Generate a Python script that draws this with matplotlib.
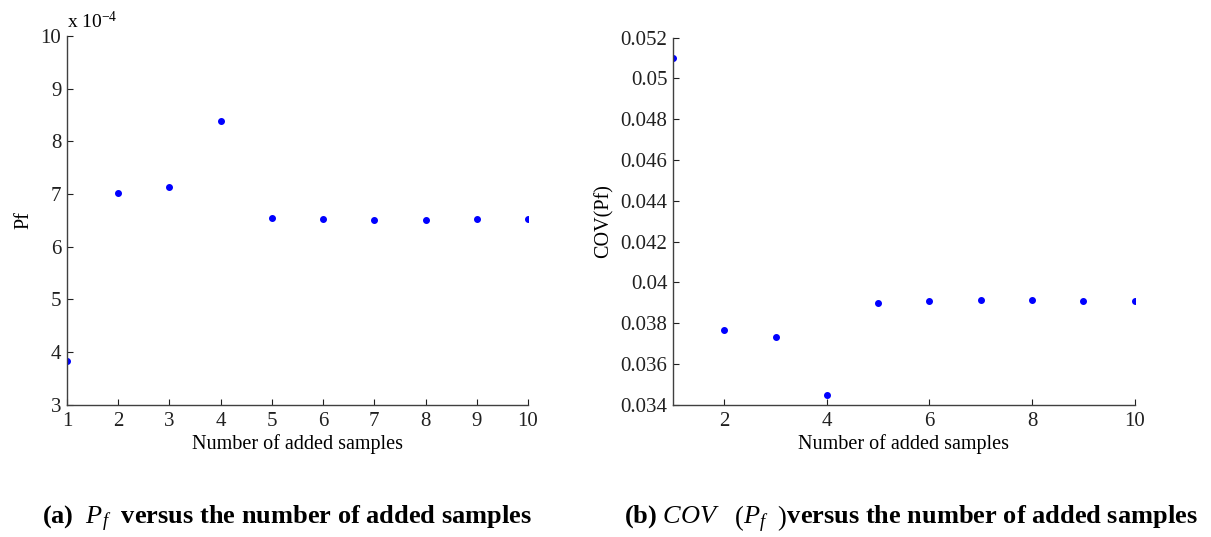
import matplotlib.pyplot as plt
from matplotlib.ticker import FuncFormatter

samples = [1, 2, 3, 4, 5, 6, 7, 8, 9, 10]
pf = [3.84e-4, 7.02e-4, 7.14e-4, 8.38e-4, 6.54e-4, 6.52e-4, 6.50e-4, 6.50e-4, 6.52e-4, 6.52e-4]
cov_pf = [0.0510, 0.03767, 0.03733, 0.03450, 0.03900, 0.03909, 0.03914, 0.03914, 0.03909, 0.03909]

pf_ticks = [3e-4, 4e-4, 5e-4, 6e-4, 7e-4, 8e-4, 9e-4, 10e-4]
cov_ticks = [0.034, 0.036, 0.038, 0.04, 0.042, 0.044, 0.046, 0.048, 0.05, 0.052]

plt.rcParams['font.family'] = ['Liberation Serif', 'DejaVu Serif']
plt.rcParams['mathtext.fontset'] = 'custom'
plt.rcParams['mathtext.it'] = 'Liberation Serif:italic'
plt.rcParams['mathtext.rm'] = 'Liberation Serif'

fig = plt.figure(figsize=(12.11, 5.37), dpi=100)
ax1 = fig.add_axes([0.0553, 0.246, 0.3807, 0.687])
ax2 = fig.add_axes([0.5557, 0.246, 0.3813, 0.684])

blue = "#0000FF"
fs = 15

for ax in (ax1, ax2):
    ax.spines['top'].set_visible(False)
    ax.spines['right'].set_visible(False)
    for s in ('left', 'bottom'):
        ax.spines[s].set_color('#404040')
        ax.spines[s].set_linewidth(1.0)
    ax.tick_params(direction='in', length=4, width=0.8, labelsize=fs, colors='#202020')
    ax.tick_params(axis='x', pad=5)
    ax.tick_params(axis='y', pad=4)
    ax.set_xlim(1, 10)
    ax.set_xlabel("Number of added samples", fontsize=14.5, labelpad=2)

ax1.plot(samples, pf, '.', color=blue, markersize=8)
ax1.set_ylim(3e-4, 10e-4)
ax1.set_yticks(pf_ticks)
ax1.yaxis.set_major_formatter(FuncFormatter(lambda v, p: "%g" % round(v * 1e4, 6)))
ax1.set_xticks(samples)
ax1.set_ylabel("Pf", fontsize=14.5, labelpad=5)
ax1.text(0.0, 1.01, "x 10$^{-4}$", transform=ax1.transAxes, fontsize=14, ha='left', va='bottom')

ax2.plot(samples, cov_pf, '.', color=blue, markersize=8)
ax2.set_ylim(0.034, 0.052)
ax2.set_yticks(cov_ticks)
ax2.yaxis.set_major_formatter(FuncFormatter(lambda v, p: "%g" % round(v, 6)))
ax2.set_xticks([2, 4, 6, 8, 10])
ax2.set_ylabel("COV(Pf)", fontsize=14.5, labelpad=5)

fig.text(0.035, 0.024, r"(a)  $P_f$  versus the number of added samples", fontsize=19, fontweight='bold', ha='left', va='baseline')
fig.text(0.515, 0.024, r"(b) $COV\ \ \ \left(P_f\ \ \right)$versus the number of added samples", fontsize=19, fontweight='bold', ha='left', va='baseline')

fig.savefig("out.png", dpi=100)
